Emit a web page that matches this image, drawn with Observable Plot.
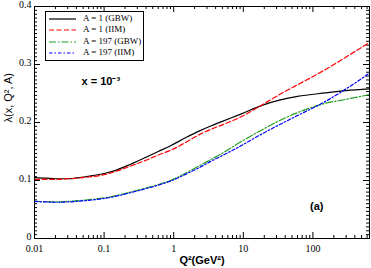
<!DOCTYPE html>
<html><head><meta charset="utf-8">
<script src="https://cdn.jsdelivr.net/npm/d3@7"></script>
<script src="https://cdn.jsdelivr.net/npm/@observablehq/plot@0.6"></script>
<style>
body{margin:0;background:#fff;}
#wrap{position:relative;width:371px;height:268px;}
#legend{position:absolute;left:45px;top:11px;width:97px;height:48px;border:1px solid #000;background:#fff;font-family:"Liberation Serif",serif;font-size:9px;}
#legend .row{position:absolute;left:2px;height:11px;line-height:11px;}
#legend svg{position:absolute;left:0;top:0;}
#legend span{position:absolute;left:35px;white-space:nowrap;}
</style>
</head><body>
<div id="wrap"><div id="chart"></div><div id="legend"></div></div>
<script>
// ---- data ----
const q2 = [0.01,0.015,0.02,0.03,0.05,0.1,0.15,0.24,0.4,0.6,0.9,1.5,2.4,3.4,5,9,19,34,60,150,300,650];
const gbwA1   = [0.105,0.104,0.103,0.103,0.106,0.112,0.118,0.128,0.140,0.150,0.160,0.174,0.186,0.194,0.202,0.214,0.230,0.239,0.245,0.251,0.255,0.258];
const iimA1   = [0.102,0.102,0.102,0.103,0.105,0.110,0.116,0.125,0.135,0.144,0.152,0.166,0.180,0.188,0.196,0.209,0.231,0.249,0.265,0.291,0.313,0.338];
const gbwA197 = [0.064,0.0635,0.063,0.064,0.066,0.070,0.074,0.080,0.087,0.093,0.100,0.113,0.126,0.136,0.147,0.166,0.188,0.204,0.217,0.233,0.240,0.248];
const iimA197 = [0.064,0.063,0.0625,0.063,0.065,0.069,0.073,0.079,0.086,0.092,0.099,0.111,0.123,0.133,0.143,0.159,0.181,0.197,0.212,0.236,0.258,0.285];
const seriesNames = ["A = 1 (GBW)","A = 1 (IIM)","A = 197 (GBW)","A = 197 (IIM)"];
const seriesColors = ["#000000","#ff0000","#22a022","#0000ff"];
const seriesDash = [null,"5,2.5","7,2,1.5,2","3.5,2,1.5,2"];
const xTicks = [0.01,0.1,1,10,100];
const yTicks = [0,0.1,0.2,0.3,0.4];
const xLabel = "Q²(GeV²)";
const yLabel = "λ(x, Q², A)";
const note = "x = 10⁻³";
const panel = "(a)";

const W = 371, H = 268;
const mL = 34, mR = 2, mT = 6, mB = 30;
const pw = W - mL - mR, ph = H - mT - mB;

const all = [gbwA1, iimA1, gbwA197, iimA197];
const rows = all.flatMap((vals, i) => vals.map((v, j) => ({q: q2[j], l: v, s: i})));

const xMinor = d3.scaleLog().domain([0.01, 650]).ticks().filter(t => !xTicks.includes(t));
const yMinor = d3.range(0, 61).map(i => i / 150).filter(v => Math.abs(v*10 - Math.round(v*10)) > 1e-6);

const serif = "Liberation Serif, Times New Roman, serif";
const sans = "Liberation Sans, Arial, sans-serif";

const chart = Plot.plot({
  width: W, height: H,
  marginLeft: mL, marginRight: mR, marginTop: mT, marginBottom: mB,
  style: {fontFamily: serif, fontSize: "10px", background: "#fff", overflow: "visible"},
  x: {type: "log", domain: [0.01, 650]},
  y: {domain: [0, 0.4]},
  marks: [
    Plot.axisX({ticks: xTicks, tickSize: 0, tickPadding: 6, tickFormat: d => String(d), fontFamily: serif, fontSize: 10, label: null}),
    Plot.axisY({ticks: yTicks, tickSize: 0, tickPadding: 3, dy: -1.5, tickFormat: d => String(d), fontFamily: serif, fontSize: 10, label: null}),
    // inward ticks, bottom & top
    Plot.tickX(xTicks, {x: d => d, insetTop: ph - 6, stroke: "#000"}),
    Plot.tickX(xTicks, {x: d => d, insetBottom: ph - 6, stroke: "#000"}),
    Plot.tickX(xMinor, {x: d => d, insetTop: ph - 3, stroke: "#000"}),
    Plot.tickX(xMinor, {x: d => d, insetBottom: ph - 3, stroke: "#000"}),
    // inward ticks, left & right
    Plot.tickY(yTicks, {y: d => d, insetRight: pw - 6, stroke: "#000"}),
    Plot.tickY(yTicks, {y: d => d, insetLeft: pw - 6, stroke: "#000"}),
    Plot.tickY(yMinor, {y: d => d, insetRight: pw - 3, stroke: "#000"}),
    Plot.tickY(yMinor, {y: d => d, insetLeft: pw - 3, stroke: "#000"}),
    ...all.map((vals, i) => Plot.line(rows.filter(r => r.s === i), {
      x: "q", y: "l", stroke: seriesColors[i], strokeWidth: 1.2,
      strokeDasharray: seriesDash[i], curve: "monotone-x"
    })),
    Plot.frame({stroke: "#000", strokeWidth: 1}),
    Plot.text([note], {frameAnchor: "top-left", dx: 47, dy: 71, text: d => d, fontFamily: sans, fontWeight: "bold", fontSize: 11, textAnchor: "start"}),
    Plot.text([panel], {frameAnchor: "bottom-right", dx: -46, dy: -29, text: d => d, fontFamily: sans, fontWeight: "bold", fontSize: 11}),
    Plot.text([xLabel], {frameAnchor: "bottom", dx: 0, dy: 25, text: d => d, fontFamily: sans, fontWeight: "bold", fontSize: 11}),
    Plot.text([yLabel], {frameAnchor: "left", dx: -26, rotate: -90, text: d => d, fontFamily: sans, fontSize: 11})
  ]
});
document.getElementById("chart").appendChild(chart);

// legend
const lg = document.getElementById("legend");
seriesNames.forEach((name, i) => {
  const row = document.createElement("div");
  row.className = "row";
  row.style.top = (1 + i * 11.3) + "px";
  row.style.width = "92px";
  const dash = seriesDash[i] ? ` stroke-dasharray="${seriesDash[i]}"` : "";
  row.innerHTML = `<svg width="30" height="11"><line x1="1" x2="28" y1="6" y2="6" stroke="${seriesColors[i]}" stroke-width="1.2"${dash}/></svg><span>${name}</span>`;
  lg.appendChild(row);
});
</script>
</body></html>
